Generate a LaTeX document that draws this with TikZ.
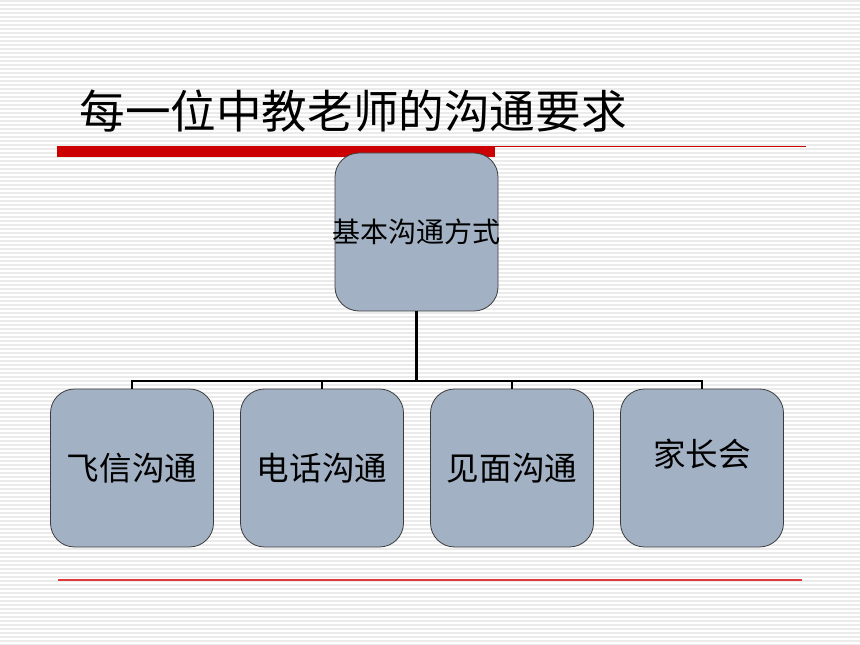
\documentclass[tikz,border=0pt]{standalone}
\usepackage{fontspec}
\setmainfont{Noto Sans CJK SC}
\usepackage{xcolor}
\usetikzlibrary{positioning}

\definecolor{boxfill}{HTML}{A2B1C3}
\definecolor{boxline}{HTML}{3C3C3C}
\definecolor{barred}{HTML}{CC0000}
\definecolor{linered}{HTML}{E03A3A}

\begin{document}
\begin{tikzpicture}[x=0.75pt,y=-0.75pt,thick,node distance=142.5pt,
    stripe/.style={gray!16,line width=1.1pt},
    main node/.style={rounded corners=18pt,draw=boxline,line width=0.6pt,fill=boxfill,
        minimum width=122.25pt,minimum height=118.5pt,inner sep=0pt,font=\fontsize{24.4pt}{28pt}\selectfont},
    tree/.style={line width=1.9pt,black}]
    \useasboundingbox (0,0) rectangle (860,645);
    % background stripes
    \fill[white] (0,0) rectangle (860,645);
    \foreach \y in {1,5,...,645}
        \draw[stripe] (0,\y) -- (860,\y);

    % title and rules
    \node[anchor=west,inner sep=0pt,font=\fontsize{34.2pt}{38pt}\selectfont] (title) at (79,111) {每一位中教老师的沟通要求};
    \fill[barred] (57,146) rectangle (495,157);
    \draw[barred,line width=0.75pt] (495,147) -- (806,147);
    \draw[linered,line width=0.9pt] (58,580) -- (802,580);

    % boxes
    \node[main node,font=\fontsize{21pt}{24pt}\selectfont] (0) at (416.5,232) {\makebox[0pt]{基本沟通方式}};
    \node[main node] (1) at (132,468) {飞信沟通};
    \node[main node] (2) [right of=1] {电话沟通};
    \node[main node] (3) [right of=2] {见面沟通};
    \node[main node] (4) [right of=3] {\raisebox{22.5pt}{家长会}};

    \coordinate (bus) at (416.5,381);
    \draw[tree] (0) -- (bus);
    \draw[tree] (bus) -| (1);
    \draw[tree] (bus) -| (2);
    \draw[tree] (bus) -| (3);
    \draw[tree] (bus) -| (4);
\end{tikzpicture}
\end{document}
